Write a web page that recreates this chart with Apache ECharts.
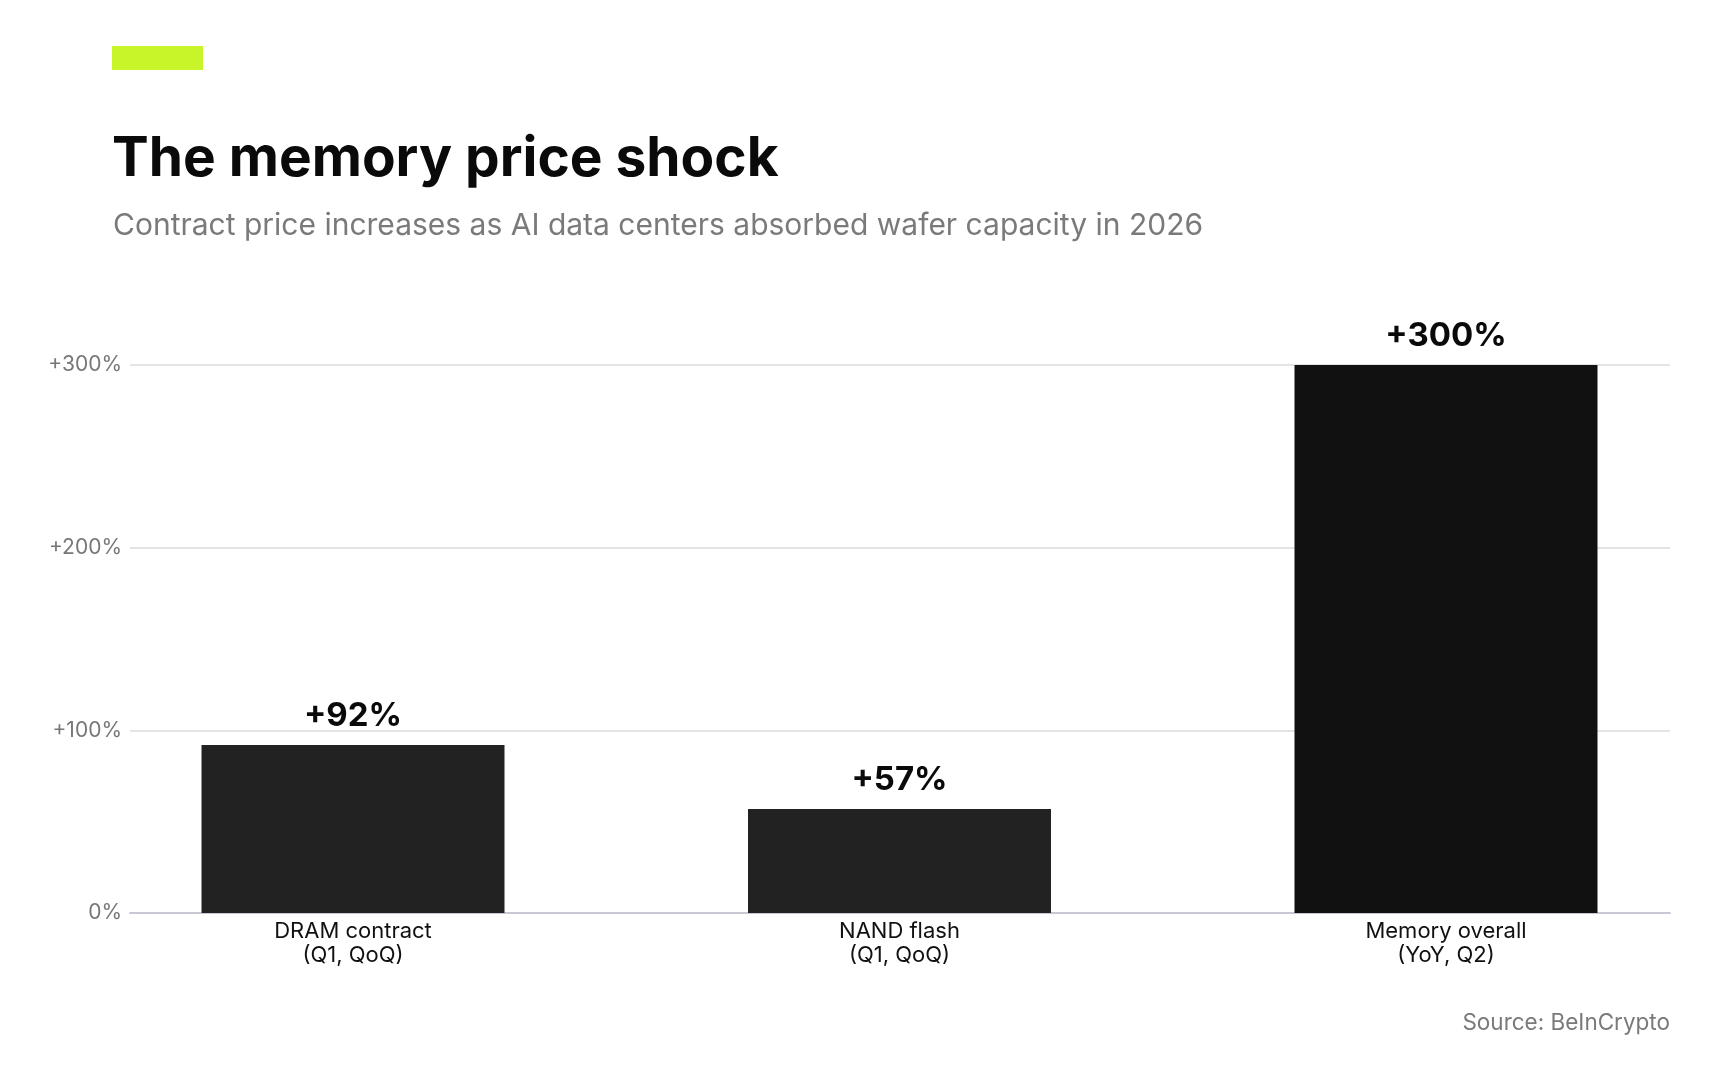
<!DOCTYPE html>
<html><head><meta charset="utf-8">
<script src="https://cdn.jsdelivr.net/npm/echarts@6/dist/echarts.min.js"></script>
<style>html,body{margin:0;padding:0;background:#fff}#c{width:1718px;height:1081px}</style>
</head><body><div id="c"></div>
<script>
const categories = ['DRAM contract\n(Q1, QoQ)', 'NAND flash\n(Q1, QoQ)', 'Memory overall\n(YoY, Q2)'];
const values = [92, 57, 300];
const barColors = ['#222222', '#222222', '#111111'];
const yTicks = [0, 100, 200, 300];
const FF = 'Inter, "Noto Sans", sans-serif';
const chart = echarts.init(document.getElementById('c'));
chart.setOption({
  backgroundColor: '#fff',
  animation: false,
  graphic: [
    {type:'rect', left:112, top:46, shape:{width:91, height:24}, style:{fill:'#c8f42a'}},
    {type:'text', left:112, top:132, style:{text:'The memory price shock', font:'bold 55px '+FF, fill:'#0a0a0a'}},
    {type:'text', left:113, top:211, style:{text:'Contract price increases as AI data centers absorbed wafer capacity in 2026', font:'30px '+FF, fill:'#7a7a7a'}},
    {type:'text', right:48, top:1012, style:{text:'Source: BeInCrypto', font:'22.5px '+FF, fill:'#7a7a7a'}}
  ],
  grid: [
    {left:130, right:48, top:365, bottom:168},
    {left:353, right:272, top:365, bottom:168}
  ],
  xAxis: [
    {type:'category', gridIndex:0, data:categories, axisLine:{lineStyle:{color:'#c8c8d4', width:2}},
     axisTick:{show:false}, axisLabel:{show:false}},
    {type:'category', gridIndex:1, data:categories, boundaryGap:false,
     axisLine:{show:false}, axisTick:{show:false},
     axisLabel:{color:'#111', fontSize:22, fontFamily:FF, lineHeight:24, margin:6}}
  ],
  yAxis: [
    {type:'value', gridIndex:0, min:0, max:300, interval:100,
     axisLabel:{color:'#777', fontSize:21, fontFamily:FF, margin:8,
       formatter: v => yTicks.includes(v) ? (v === 0 ? '0%' : '+' + v + '%') : ''},
     splitLine:{lineStyle:{color:'#e4e4e8', width:2}}, axisLine:{show:false}, axisTick:{show:false}},
    {type:'value', gridIndex:1, min:0, max:300, interval:100, show:false, splitLine:{show:false}}
  ],
  series: [{
    type:'bar', xAxisIndex:1, yAxisIndex:1, barWidth:303,
    data: values.map((v,i)=>({value:v, itemStyle:{color:barColors[i]}})),
    label:{show:true, position:'top', distance:12, formatter: p => '+' + p.value + '%',
      fontSize:33, fontWeight:'bold', color:'#0a0a0a', fontFamily:FF}
  }]
});
</script></body></html>
